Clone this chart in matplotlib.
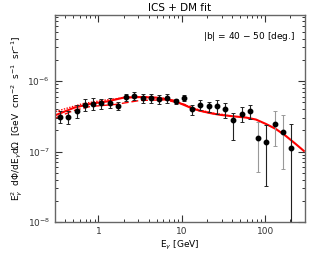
import matplotlib
matplotlib.use('Agg')
import matplotlib.pyplot as plt
import numpy as np

# data points (energy in GeV, E^2 dPhi/dE in GeV cm^-2 s^-1 sr^-1)
energy = [0.347, 0.436, 0.548, 0.688, 0.864, 1.085, 1.363, 1.712, 2.150, 2.70,
          3.39, 4.26, 5.35, 6.72, 8.44, 10.6, 13.3, 16.7, 21.0, 26.4,
          33.1, 41.6, 52.2, 65.6, 82.4, 103.5, 130.0, 163.0, 205.0]
flux = [3.06e-7, 3.06e-7, 3.73e-7, 4.6e-7, 4.75e-7, 4.8e-7, 4.91e-7, 4.35e-7, 5.9e-7, 6.18e-7,
        5.71e-7, 5.71e-7, 5.61e-7, 5.75e-7, 5.21e-7, 5.75e-7, 3.98e-7, 4.6e-7, 4.35e-7, 4.45e-7,
        3.98e-7, 2.81e-7, 3.42e-7, 3.73e-7, 1.53e-7, 1.38e-7, 2.49e-7, 1.91e-7, 1.12e-7]
flux_hi = [3.7e-7, 3.7e-7, 4.55e-7, 5.5e-7, 5.7e-7, 5.5e-7, 5.7e-7, 5.0e-7, 6.6e-7, 7.0e-7,
           6.6e-7, 6.6e-7, 6.4e-7, 6.5e-7, 5.6e-7, 6.4e-7, 4.6e-7, 5.3e-7, 5.1e-7, 5.3e-7,
           4.8e-7, 3.57e-7, 4.3e-7, 4.6e-7, 2.6e-7, 2.4e-7, 3.8e-7, 3.3e-7, 2.45e-7]
flux_lo = [2.5e-7, 2.45e-7, 2.95e-7, 3.8e-7, 3.9e-7, 4.05e-7, 4.1e-7, 3.85e-7, 5.25e-7, 5.4e-7,
           4.9e-7, 4.9e-7, 4.75e-7, 4.9e-7, 4.7e-7, 5.2e-7, 3.3e-7, 3.9e-7, 3.6e-7, 3.4e-7,
           3.0e-7, 1.46e-7, 2.6e-7, 2.85e-7, 5.2e-8, 3.2e-8, 1.18e-7, 5.6e-8, 1e-9]
dark_bar = [True] * 24 + [False, True, False, False, True]

# model curves
curve_e = [0.308, 0.508, 0.803, 1.27, 2.0, 3.16, 5.0, 7.87, 10.5, 13.6, 17.0, 21.5,
           28.3, 40.8, 58.9, 77.5, 102.0, 134.0, 176.0, 232.0, 291.0]
total = [3.29e-7, 4.17e-7, 4.75e-7, 5.13e-7, 5.8e-7, 5.91e-7, 5.8e-7, 5.3e-7, 4.6e-7, 4.04e-7,
         3.75e-7, 3.52e-7, 3.32e-7, 3.16e-7, 3.03e-7, 2.84e-7, 2.46e-7, 2.09e-7, 1.67e-7,
         1.28e-7, 1.02e-7]
dashed_e = [0.308, 0.5, 0.8, 1.6, 3.16, 6.3, 10.8, 16.0, 25.0]
dashed = [3.0e-7, 3.8e-7, 4.35e-7, 4.65e-7, 5.3e-7, 5.4e-7, 4.65e-7, 3.8e-7, 3.4e-7]
dotted_e = [0.308, 0.66, 1.25, 2.2, 3.5, 6.0, 10.0, 16.0, 25.0, 35.0]
dotted = [3.7e-7, 4.8e-7, 5.4e-7, 5.85e-7, 6.0e-7, 5.7e-7, 4.75e-7, 3.9e-7, 3.45e-7, 3.3e-7]

plt.rcParams['font.family'] = 'DejaVu Sans'
plt.rcParams['font.size'] = 6.5

fig = plt.figure(figsize=(3.21, 2.57), dpi=100)
ax = fig.add_axes([0.171, 0.136, 0.779, 0.804])

ax.plot(curve_e, total, color='red', lw=1.5)
ax.plot(dashed_e, dashed, color='red', lw=1.0, ls=(0, (5, 2)))
ax.plot(dotted_e, dotted, color='red', lw=1.0, ls=(0, (1, 1)))

e = np.array(energy)
f = np.array(flux)
lo = f - np.array(flux_lo)
hi = np.array(flux_hi) - f
for i in range(len(e)):
    c = '#222222' if dark_bar[i] else '#999999'
    ax.errorbar(e[i], f[i], yerr=[[lo[i]], [hi[i]]], fmt='none', ecolor=c,
                elinewidth=0.8, capsize=1.5, capthick=0.7)
ax.plot(e, f, 'o', color='black', ms=3.2)

ax.set_xscale('log')
ax.set_yscale('log')
ax.set_xlim(0.3, 300)
ax.set_ylim(1e-8, 8.5e-6)
ax.set_xticks([1, 10, 100])
ax.set_xticklabels(['1', '10', '100'])
ax.tick_params(which='both', direction='in', top=True, right=True, colors='#333333')
ax.tick_params(which='major', length=5, width=0.8)
ax.tick_params(which='minor', length=2.5, width=0.7)
for s in ax.spines.values():
    s.set_color('#666666')
    s.set_linewidth(1.0)

ax.set_title('ICS + DM fit', fontsize=7.5, pad=3)
ax.text(0.96, 0.9, '|b| = 40 $-$ 50 [deg.]', transform=ax.transAxes,
        ha='right', va='center', fontsize=6.5)
ax.set_xlabel(r'E$_\gamma$ [GeV]', fontsize=6.5, labelpad=2)
ax.set_ylabel(r'E$_\gamma^2$  d$\Phi$/dE$_\gamma$d$\Omega$  [GeV  cm$^{-2}$  s$^{-1}$  sr$^{-1}$]',
              fontsize=6.5, labelpad=2)

fig.savefig('out.png', dpi=100)
